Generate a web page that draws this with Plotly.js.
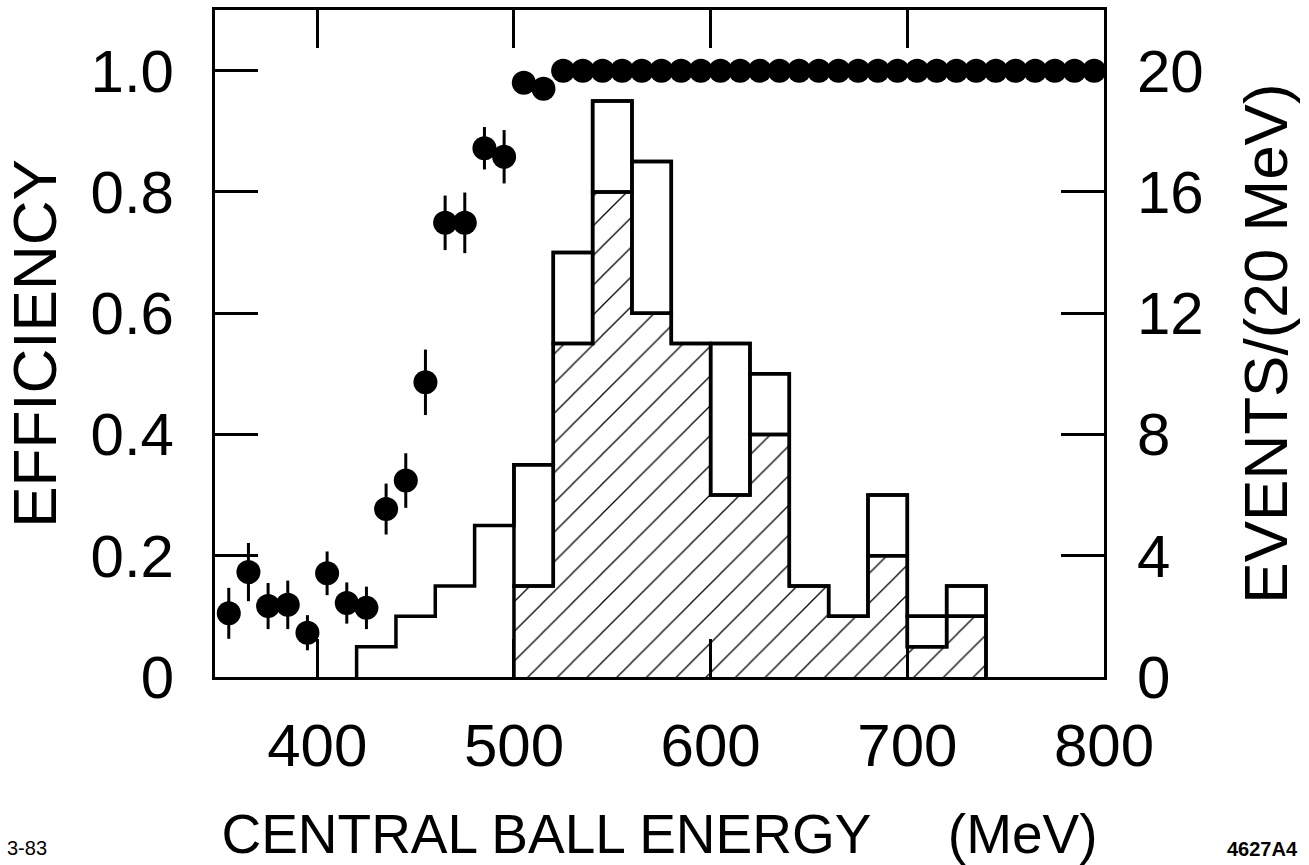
<!DOCTYPE html>
<html>
<head>
<meta charset="utf-8">
<script src="https://cdn.plot.ly/plotly-3.0.1.min.js"></script>
<style>
  html, body { margin: 0; padding: 0; background: #fff; }
  #chart { width: 1309px; height: 865px; }
</style>
</head>
<body>
<div id="chart"></div>
<script>
// ---- Efficiency points (central ball energy, MeV) ----
const effEnergy = [355, 365, 375, 385, 395, 405, 415, 425, 435, 445, 455, 465, 475, 485, 495,
                   505, 515, 525, 535, 545, 555, 565, 575, 585, 595, 605, 615, 625, 635, 645,
                   655, 665, 675, 685, 695, 705, 715, 725, 735, 745, 755, 765, 775, 785, 795];
const effValue  = [0.105, 0.173, 0.117, 0.119, 0.073, 0.171, 0.122, 0.114, 0.277, 0.324, 0.486, 0.749, 0.749, 0.872, 0.858,
                   0.980, 0.970, 1.0, 1.0, 1.0, 1.0, 1.0, 1.0, 1.0, 1.0, 1.0, 1.0, 1.0, 1.0, 1.0,
                   1.0, 1.0, 1.0, 1.0, 1.0, 1.0, 1.0, 1.0, 1.0, 1.0, 1.0, 1.0, 1.0, 1.0, 1.0];
const effError  = [0.042, 0.048, 0.038, 0.040, 0.029, 0.036, 0.034, 0.035, 0.042, 0.045, 0.054, 0.045, 0.050, 0.035, 0.044,
                   0, 0, 0, 0, 0, 0, 0, 0, 0, 0, 0, 0, 0, 0, 0,
                   0, 0, 0, 0, 0, 0, 0, 0, 0, 0, 0, 0, 0, 0, 0];

// ---- Histograms: events per 20 MeV ----
const binLow        = [420, 440, 460, 480, 500, 520, 540, 560, 580, 600, 620, 640, 660, 680, 700, 720];
const binWidth      = 20;
const allEvents     = [1, 2, 3, 5, 7, 14, 19, 17, 11, 11, 10, 3, 2, 6, 2, 3];
const hatchedEvents = [0, 0, 0, 0, 3, 11, 16, 12, 11, 6, 8, 3, 2, 4, 1, 2];

// ---- Tick labels ----
const xTickVals  = [400, 500, 600, 700, 800];
const xTickText  = ['400', '500', '600', '700', '800'];
const yTickVals  = [0, 0.2, 0.4, 0.6, 0.8, 1.0];
const yTickText  = ['0', '0.2', '0.4', '0.6', '0.8', '1.0'];
const y2TickVals = [0, 4, 8, 12, 16, 20];
const y2TickText = ['0', '4', '8', '12', '16', '20'];

// Build step outline (hv) from bins
function stepOutline(lows, vals) {
  const first = vals.findIndex(v => v > 0);
  const xs = [lows[first]];
  const ys = [0];
  for (let i = first; i < lows.length; i++) { xs.push(lows[i]); ys.push(vals[i]); }
  xs.push(lows[lows.length - 1] + binWidth); ys.push(0);
  return {x: xs, y: ys};
}
const binCenter = binLow.map(v => v + binWidth / 2);
const allStep = stepOutline(binLow, allEvents);
const hatStep = stepOutline(binLow, hatchedEvents);
// open boxes between the hatched and the total histogram
const boxBase   = hatchedEvents.map((h, i) => (h > 0 && allEvents[i] > h) ? h : null);
const boxHeight = hatchedEvents.map((h, i) => (h > 0 && allEvents[i] > h) ? allEvents[i] - h : null);

const tickFont   = {family: 'Liberation Sans, Arial, sans-serif', size: 60, color: '#000'};
const yTitleFont = {family: 'Liberation Sans, Arial, sans-serif', size: 62, color: '#000'};
const xTitleFont = {family: 'Liberation Sans, Arial, sans-serif', size: 55, color: '#000'};

const traces = [
  {
    type: 'bar', x: binCenter, y: hatchedEvents, width: binWidth, yaxis: 'y2',
    marker: {color: '#fff', line: {width: 0},
             pattern: {shape: '/', size: 21, solidity: 0.06, fgcolor: '#000', bgcolor: '#fff', fillmode: 'replace'}},
    hoverinfo: 'skip', showlegend: false
  },
  {
    type: 'bar', x: binCenter, y: boxHeight, base: boxBase, width: binWidth, yaxis: 'y2',
    marker: {color: 'rgba(0,0,0,0)', line: {width: 3.5, color: '#000'}},
    hoverinfo: 'skip', showlegend: false
  },
  {
    type: 'scatter', mode: 'lines', x: hatStep.x, y: hatStep.y, yaxis: 'y2',
    line: {shape: 'hv', color: '#000', width: 3.5}, hoverinfo: 'skip', showlegend: false
  },
  {
    type: 'scatter', mode: 'lines', x: allStep.x, y: allStep.y, yaxis: 'y2',
    line: {shape: 'hv', color: '#000', width: 3.5}, hoverinfo: 'skip', showlegend: false
  },
  {
    type: 'scatter', mode: 'markers', x: effEnergy, y: effValue,
    marker: {color: '#000', size: 24},
    error_y: {type: 'data', array: effError, visible: true, color: '#000', thickness: 3, width: 0},
    showlegend: false
  }
];

const layout = {
  width: 1309, height: 865,
  paper_bgcolor: '#fff', plot_bgcolor: '#fff',
  margin: {l: 215, r: 205, t: 10, b: 188},
  bargap: 0,
  barmode: 'overlay',
  showlegend: false,
  xaxis: {
    range: [348, 800], tickvals: xTickVals, ticktext: xTickText,
    ticks: 'inside', ticklen: 38, tickwidth: 3, tickcolor: '#000',
    showline: true, linewidth: 3, linecolor: '#000', mirror: 'ticks',
    showgrid: false, zeroline: false, tickfont: tickFont, ticklabelstandoff: 14,
    title: {text: 'CENTRAL BALL ENERGY\u00A0\u00A0\u00A0\u00A0\u00A0(MeV)', font: xTitleFont, standoff: 42}
  },
  yaxis: {
    range: [0, 1.1], tickvals: yTickVals, ticktext: yTickText,
    ticks: 'inside', ticklen: 43, tickwidth: 3, tickcolor: '#000',
    showline: true, linewidth: 3, linecolor: '#000', mirror: 'ticks',
    showgrid: false, zeroline: false, tickfont: tickFont, ticklabelstandoff: 26,
    title: {text: 'EFFICIENCY', font: yTitleFont, standoff: 22}
  },
  yaxis2: {
    overlaying: 'y', side: 'right', range: [0, 22],
    tickvals: y2TickVals, ticktext: y2TickText, ticks: '',
    showline: false, showgrid: false, zeroline: false,
    tickfont: tickFont, ticklabelstandoff: 32,
    title: {text: 'EVENTS/(20 MeV)', font: yTitleFont, standoff: 40}
  },
  annotations: [
    {text: '3-83', xref: 'paper', yref: 'paper', x: -0.236, y: -0.256, xanchor: 'left', yanchor: 'middle',
     showarrow: false, font: {family: 'Liberation Sans, Arial, sans-serif', size: 20, color: '#000'}},
    {text: '<b>4627A4</b>', xref: 'paper', yref: 'paper', x: 1.2205, y: -0.258, xanchor: 'right', yanchor: 'middle',
     showarrow: false, font: {family: 'Liberation Sans, Arial, sans-serif', size: 20, color: '#000'}}
  ]
};

Plotly.newPlot('chart', traces, layout, {displayModeBar: false, staticPlot: true});
</script>
</body>
</html>
